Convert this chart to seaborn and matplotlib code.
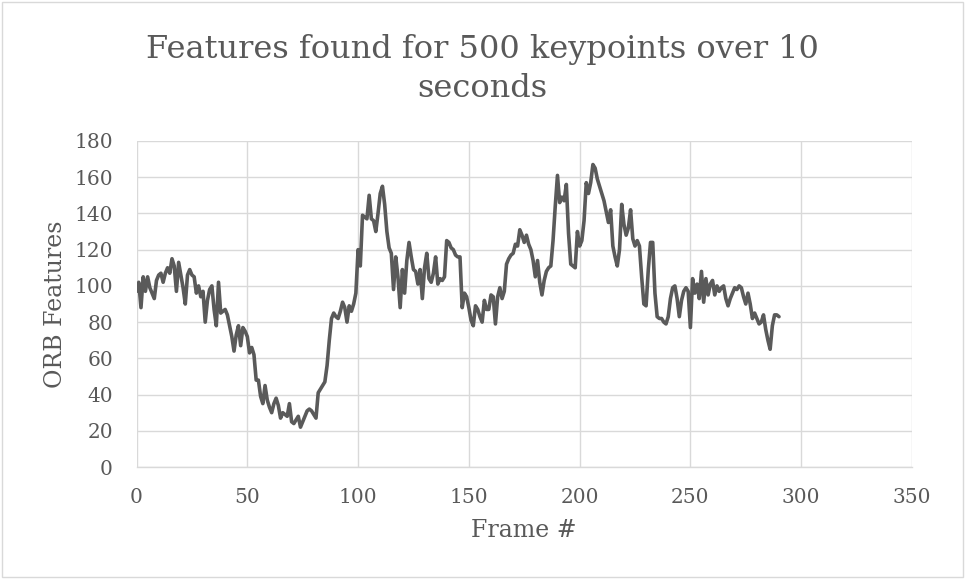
import numpy as np
import pandas as pd
import matplotlib
matplotlib.use("Agg")
import matplotlib.pyplot as plt
import seaborn as sns
from matplotlib.patches import Rectangle

# ---- data ----
orb_features = [
    97, 102, 88, 105, 97, 105, 99, 96, 93, 103,          # 0-9
    106, 107, 102, 107, 110, 107, 115, 111, 97, 113,     # 10-19
    106, 99, 90, 106, 109, 106, 105, 96, 100, 94,        # 20-29
    97, 80, 92, 98, 100, 87, 78, 102, 85, 86,            # 30-39
    87, 84, 78, 72, 64, 73, 78, 67, 77, 75,              # 40-49
    72, 63, 66, 62, 48, 48, 39, 35, 45, 37,              # 50-59
    33, 30, 35, 38, 34, 27, 30, 29, 28, 35,              # 60-69
    25, 24, 26, 28, 22, 25, 28, 31, 32, 31,              # 70-79
    29, 27, 41, 43, 45, 47, 56, 70, 82, 85,              # 80-89
    83, 82, 86, 91, 88, 80, 89, 86, 90, 96,              # 90-99
    120, 111, 139, 138, 137, 150, 137, 136, 130, 140,    # 100-109
    151, 155, 145, 130, 121, 118, 98, 116, 105, 88,      # 110-119
    109, 96, 114, 124, 116, 109, 108, 101, 109, 93,      # 120-129
    110, 118, 104, 102, 107, 116, 101, 104, 103, 105,    # 130-139
    125, 124, 121, 120, 117, 116, 116, 88, 96, 94,       # 140-149
    88, 81, 78, 89, 87, 83, 80, 92, 87, 87,              # 150-159
    95, 94, 79, 94, 99, 93, 97, 112, 115, 117,           # 160-169
    118, 123, 122, 131, 128, 124, 128, 123, 120, 114,    # 170-179
    105, 114, 102, 95, 103, 108, 110, 111, 125, 144,     # 180-189
    161, 146, 149, 147, 156, 129, 112, 111, 110, 130,    # 190-199
    122, 125, 136, 157, 151, 157, 167, 165, 159, 155,    # 200-209
    151, 147, 141, 135, 142, 122, 116, 111, 120, 145,    # 210-219
    134, 128, 132, 142, 126, 122, 125, 122, 105, 90,     # 220-229
    89, 109, 124, 124, 96, 83, 82, 82, 80, 79,           # 230-239
    83, 93, 99, 100, 93, 83, 92, 97, 99, 97,             # 240-249
    77, 104, 96, 101, 93, 108, 91, 104, 95, 101,         # 250-259
    103, 95, 100, 97, 99, 100, 93, 89, 93, 96,           # 260-269
    99, 98, 100, 99, 94, 90, 96, 90, 82, 85,             # 270-279
    82, 79, 80, 84, 76, 70, 65, 78, 84, 84,              # 280-289
    83,                                                   # 290
]
frames = list(range(len(orb_features)))

title_text = "Features found for 500 keypoints over 10\nseconds"
x_label = "Frame #"
y_label = "ORB Features"
x_ticks = [0, 50, 100, 150, 200, 250, 300, 350]
y_ticks = [0, 20, 40, 60, 80, 100, 120, 140, 160, 180]

df = pd.DataFrame({"Frame": frames, "ORB": orb_features})

# ---- style ----
sns.set_style("white")
plt.rcParams["font.family"] = ["DejaVu Serif", "Liberation Serif"]
text_color = "#595959"
grid_color = "#d9d9d9"

fig = plt.figure(figsize=(9.65, 5.79), dpi=100)
ax = fig.add_axes([0.1415, 0.1934, 0.945 - 0.1415, 0.7565 - 0.1934])

sns.lineplot(data=df, x="Frame", y="ORB", ax=ax, color="#5a5a5a",
             linewidth=2.6, legend=False)

ax.set_xlim(0, 350)
ax.set_ylim(0, 180)
ax.set_xticks(x_ticks)
ax.set_yticks(y_ticks)
ax.set_xticklabels([str(t) for t in x_ticks])
ax.set_yticklabels([str(t) for t in y_ticks])
ax.grid(True, color=grid_color, linewidth=1.0)
ax.set_axisbelow(True)
for s in ax.spines.values():
    s.set_visible(False)
ax.spines["bottom"].set_visible(True)
ax.spines["bottom"].set_color(grid_color)
ax.spines["bottom"].set_linewidth(1.0)

ax.tick_params(axis="both", length=0, colors=text_color, labelsize=14.5)
ax.tick_params(axis="y", pad=17)
ax.tick_params(axis="x", pad=15)

ax.set_xlabel(x_label, fontsize=17, color=text_color, labelpad=9)
ax.set_ylabel(y_label, fontsize=17, color=text_color, labelpad=5)

fig.text(0.5, 1 - 69 / 579, title_text, ha="center", va="center",
         fontsize=23, color=text_color, linespacing=1.32)

# chart border
fig.patches.append(Rectangle((0.002, 0.003), 0.996, 0.994, transform=fig.transFigure,
                             fill=False, edgecolor=grid_color, linewidth=1.0))

fig.savefig("out.png", dpi=100)
